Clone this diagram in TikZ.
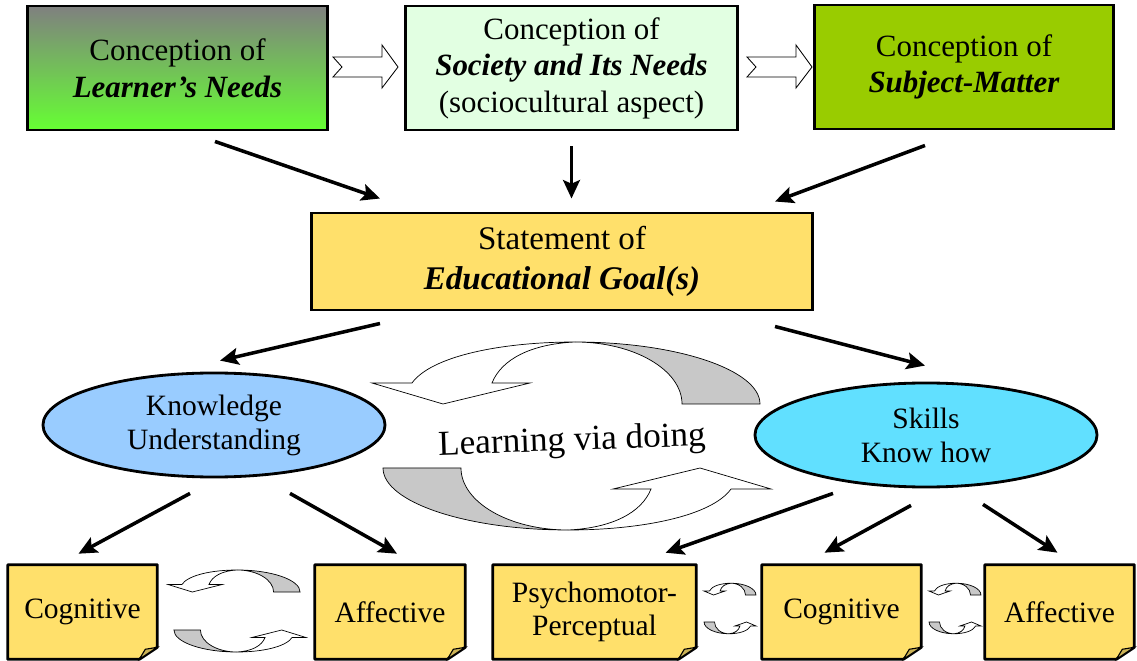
\documentclass[tikz,border=0pt]{standalone}
\usepackage{fontspec}
\setmainfont{Liberation Serif}
\usetikzlibrary{calc,arrows.meta,shapes.geometric,backgrounds}

\definecolor{learnergreen}{HTML}{66FF33}
\definecolor{societygreen}{HTML}{E2FFE2}
\definecolor{subjectgreen}{HTML}{99CC00}
\definecolor{goalyellow}{HTML}{FFE06B}
\definecolor{knowblue}{HTML}{99CCFF}
\definecolor{skillcyan}{HTML}{61E0FF}
\definecolor{backgray}{HTML}{C8C8C8}

% one half of a turning arrow, drawn in pixel units
\tikzset{
  cyclearrow/.pic={
    \filldraw[fill=backgray, line width=0.5pt] (188.5,0) .. controls (188.5,-34) and (105.6,-62) .. (3.5,-62)
      .. controls (62.6,-62) and (110.5,-34) .. (110.5,0) -- cycle;
    \filldraw[fill=white, line width=0.5pt] (3.5,-62) .. controls (-70,-62) and (-140,-48) .. (-159.5,-21)
      -- (-199.5,-21) -- (-128.5,0) -- (-41.5,-21) -- (-79.5,-21)
      .. controls (-70,-45) and (-40,-60) .. (3.5,-62) -- cycle;
  }
}

\begin{document}
\begin{tikzpicture}[x=0.025cm, y=-0.025cm,
    conception/.style={rectangle, draw, line width=2.1pt, minimum height=3.1cm, align=center,
      font=\fontsize{22}{26}\selectfont},
    goalbox/.style={rectangle, draw, line width=2.1pt, fill=goalyellow, minimum width=12.5cm,
      minimum height=2.425cm, align=center, font=\fontsize{23.5}{28.5}\selectfont},
    domainbox/.style={ellipse, draw, line width=2pt, inner sep=0pt, minimum width=8.55cm,
      minimum height=2.6cm, align=center, font=\fontsize{21}{24.2}\selectfont},
    note/.style={rectangle, inner sep=0pt, minimum height=2.35cm, align=center,
      font=\fontsize{21}{24}\selectfont},
    arr/.style={line width=2.5pt, -{Stealth[length=4.6mm, width=4.2mm, inset=0.9mm]}}]
  \useasboundingbox (0,0) rectangle (1137,661);

  % sources
  \node[conception, top color=gray, bottom color=learnergreen, minimum width=7.475cm] (learner) at (177.5,68)
    {Conception of\\ \textbf{\textit{Learner’s Needs}}};
  \node[conception, fill=societygreen, minimum width=8.275cm] (society) at (571.5,68)
    {Conception of\\ \textbf{\textit{Society and Its Needs}}\\ (sociocultural aspect)};
  \node[conception, fill=subjectgreen, minimum width=7.45cm] (subject) at (964,67)
    {Conception of\\ \textbf{\textit{Subject-Matter}}};
  \foreach \x in {333,747}
    \draw[line width=0.6pt, fill=white] (\x,57) -- ++(49,0) -- ++(0,-12) -- ++(16,22) -- ++(-16,21)
      -- ++(0,-11) -- ++(-49,0) -- ++(9,-10) -- cycle;

  \node[goalbox] (goal) at (562,261.5) {Statement of\\ \textbf{\textit{Educational Goal(s)}}};

  \node[domainbox, fill=knowblue] (knowledge) at (214,425) {Knowledge\\ Understanding};
  \node[domainbox, fill=skillcyan] (skills) at (926,435) {Skills\\ Know how};

  % learning cycle
  \pic at (571.5,404) {cyclearrow};
  \pic[rotate=180] at (571.5,468) {cyclearrow};
  \node[font=\fontsize{25}{30}\selectfont, rotate=2] (learning) at (572,442) {Learning via doing};

  % outcomes
  \node[note, minimum width=3.725cm] (cogK) at (82.5,612) {Cognitive};
  \node[note, minimum width=3.75cm] (affK) at (390,612) {Affective};
  \node[note, minimum width=5.075cm] (psySk) at (594.5,612) {Psychomotor-\\ Perceptual};
  \node[note, minimum width=3.975cm] (cogSk) at (841.5,612) {Cognitive};
  \node[note, minimum width=3.725cm] (affSk) at (1059.5,612) {Affective};
  \begin{pgfonlayer}{background}
    \foreach \n in {cogK,affK,psySk,cogSk,affSk}{
      \filldraw[fill=goalyellow, line width=2pt, line join=round] (\n.north west) -- (\n.north east)
        -- ([yshift=0.3cm]\n.south east) -- ([xshift=-0.45cm]\n.south east) -- (\n.south west) -- cycle;
      \filldraw[fill=goalyellow!80!black, line width=0.8pt] ([yshift=0.3cm]\n.south east)
        -- ([xshift=-0.3cm, yshift=0.25cm]\n.south east) -- ([xshift=-0.45cm]\n.south east) -- cycle;
    }
  \end{pgfonlayer}

  \pic[xscale=0.34, yscale=0.355] at (236,592) {cyclearrow};
  \pic[rotate=180, xscale=0.34, yscale=0.355] at (238,630) {cyclearrow};
  \pic[xscale=0.134, yscale=0.19] at (730.7,595) {cyclearrow};
  \pic[rotate=180, xscale=0.134, yscale=0.19] at (729.3,622) {cyclearrow};
  \pic[xscale=0.134, yscale=0.19] at (955.7,595) {cyclearrow};
  \pic[rotate=180, xscale=0.134, yscale=0.19] at (954.3,622) {cyclearrow};

  % connectors
  \draw[arr] ($(learner.south)+(37.5,10)$) -- ($(goal.north)+(-182,-13)$);
  \draw[arr, shorten <=15*0.025cm, shorten >=13*0.025cm] (society.south) -- (society.south |- goal.north);
  \draw[arr] ($(subject.south)+(-39,15)$) -- ($(goal.north)+(213,-10)$);
  \draw[arr] ($(goal.south)+(-182,12)$) -- ($(knowledge.north)+(6,-11)$);
  \draw[arr] ($(goal.south)+(213,15)$) -- ($(skills.north)+(-1,-16)$);
  \draw[arr] ($(knowledge.south)+(-24,15)$) -- ($(cogK.north)+(-4,-11)$);
  \draw[arr] ($(knowledge.south)+(76,15)$) -- ($(affK.north)+(7,-11)$);
  \draw[arr] ($(skills.south)+(-93,5)$) -- ($(psySk.north)+(71,-12)$);
  \draw[arr] ($(skills.south)+(-15,17)$) -- ($(cogSk.north)+(-17,-12)$);
  \draw[arr] ($(skills.south)+(57,16)$) -- ($(affSk.north)+(-2,-12)$);
\end{tikzpicture}
\end{document}
